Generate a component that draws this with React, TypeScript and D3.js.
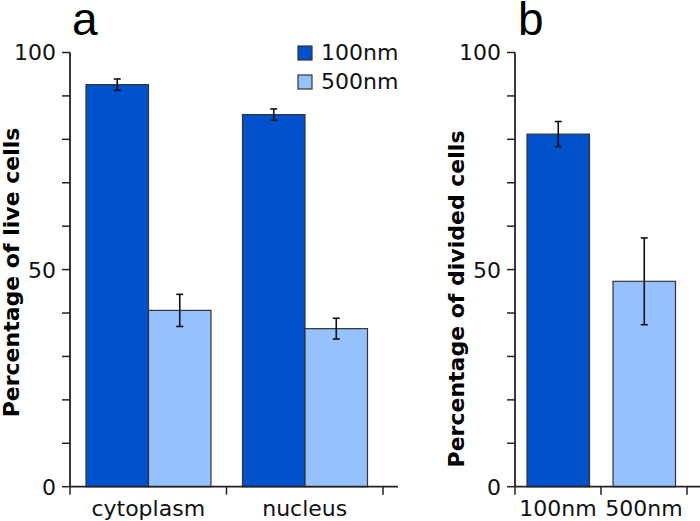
import React from "react";
import * as d3 from "d3";

const categoriesA = ["cytoplasm", "nucleus"];
const seriesNames = ["100nm", "500nm"];
const values100A = [92.6, 85.7];
const errors100A = [1.3, 1.3];
const values500A = [40.6, 36.4];
const errors500A = [3.7, 2.4];

const categoriesB = ["100nm", "500nm"];
const valuesB = [81.2, 47.3];
const errorsB = [2.9, 10.0];

const yTicksMajor = [0, 50, 100];
const yTicksMinor = [0, 10, 20, 30, 40, 50, 60, 70, 80, 90, 100];

const colors = ["#0052CC", "#96C1FF"];
const FONT = "DejaVu Sans, Verdana, sans-serif";

export default function App() {
  const W = 700, H = 521;
  const y = d3.scaleLinear().domain([0, 100]).range([486.7, 52.5]);

  const xA = d3.scaleBand<string>().domain(categoriesA).range([70, 383]).paddingInner(0).paddingOuter(0);
  const xA1 = d3.scaleBand<string>().domain(seriesNames).range([16, 141]);
  const xB = d3.scaleBand<string>().domain(categoriesB).range([515, 687]).paddingInner(0).paddingOuter(0);

  const seriesA = [
    { name: seriesNames[0], vals: values100A, errs: errors100A },
    { name: seriesNames[1], vals: values500A, errs: errors500A },
  ];

  const yAxis = (x0: number) => (
    <g>
      <line x1={x0} x2={x0} y1={y(100)} y2={y(0)} stroke="#222" strokeWidth={1.8} />
      {yTicksMinor.map((t) => (
        <line key={t} x1={x0 - 8} x2={x0} y1={y(t)} y2={y(t)} stroke="#222" strokeWidth={1.5} />
      ))}
      {yTicksMajor.map((t) => (
        <text key={t} x={x0 - 14} y={y(t)} dy="0.36em" textAnchor="end" fontFamily={FONT} fontSize={22} fill="#111">
          {t}
        </text>
      ))}
    </g>
  );

  const errBar = (cx: number, v: number, e: number, key: string) => (
    <g key={key}>
      <line x1={cx} x2={cx} y1={y(v + e)} y2={y(v - e)} stroke="#111" strokeWidth={1.6} />
      <line x1={cx - 3.5} x2={cx + 3.5} y1={y(v + e)} y2={y(v + e)} stroke="#111" strokeWidth={1.6} />
      <line x1={cx - 3.5} x2={cx + 3.5} y1={y(v - e)} y2={y(v - e)} stroke="#111" strokeWidth={1.6} />
    </g>
  );

  return (
    <svg width={W} height={H} style={{ position: "absolute", left: 0, top: 0, background: "#fff" }}>
      {/* Panel a */}
      <text x={72} y={35} fontFamily="Liberation Sans, Arial, sans-serif" fontSize={46} fill="#000">a</text>
      <text
        transform={`translate(18.5,272.5) rotate(-90)`}
        textAnchor="middle"
        fontFamily={FONT}
        fontWeight="bold"
        fontSize={22}
        fill="#000"
      >
        Percentage of live cells
      </text>
      {seriesA.map((s, si) =>
        categoriesA.map((c, ci) => {
          const x0 = (xA(c) as number) + (xA1(s.name) as number);
          return (
            <rect
              key={s.name + c}
              x={x0}
              y={y(s.vals[ci])}
              width={xA1.bandwidth()}
              height={y(0) - y(s.vals[ci])}
              fill={colors[si]}
              stroke="#333"
              strokeWidth={1.2}
            />
          );
        })
      )}
      {seriesA.map((s, si) =>
        categoriesA.map((c, ci) => {
          const cx = (xA(c) as number) + (xA1(s.name) as number) + xA1.bandwidth() / 2;
          return errBar(cx, s.vals[ci], s.errs[ci], "ea" + si + ci);
        })
      )}
      {yAxis(70)}
      <line x1={70} x2={398} y1={y(0)} y2={y(0)} stroke="#222" strokeWidth={1.8} />
      {[...categoriesA.map((c) => xA(c) as number), 383].map((t, i) => (
        <line key={i} x1={t} x2={t} y1={y(0)} y2={y(0) + 8} stroke="#222" strokeWidth={1.5} />
      ))}
      {categoriesA.map((c) => (
        <text key={c} x={(xA(c) as number) + xA.bandwidth() / 2} y={516} textAnchor="middle" fontFamily={FONT} fontSize={22} fill="#111">
          {c}
        </text>
      ))}
      {/* Legend */}
      {seriesNames.map((n, i) => (
        <g key={n}>
          <rect x={298} y={46 + i * 29} width={14} height={14} fill={colors[i]} stroke="#333" strokeWidth={1.2} />
          <text x={321} y={59.5 + i * 29} fontFamily={FONT} fontSize={22} fill="#111">{n}</text>
        </g>
      ))}

      {/* Panel b */}
      <text x={518} y={35} fontFamily="Liberation Sans, Arial, sans-serif" fontSize={46} fill="#000">b</text>
      <text
        transform={`translate(464,299) rotate(-90)`}
        textAnchor="middle"
        fontFamily={FONT}
        fontWeight="bold"
        fontSize={22}
        fill="#000"
      >
        Percentage of divided cells
      </text>
      {categoriesB.map((c, i) => (
        <rect
          key={c}
          x={(xB(c) as number) + 12}
          y={y(valuesB[i])}
          width={62.5}
          height={y(0) - y(valuesB[i])}
          fill={colors[i]}
          stroke="#333"
          strokeWidth={1.2}
        />
      ))}
      {categoriesB.map((c, i) => errBar((xB(c) as number) + 12 + 31.25, valuesB[i], errorsB[i], "eb" + i))}
      {yAxis(515)}
      <line x1={515} x2={700} y1={y(0)} y2={y(0)} stroke="#222" strokeWidth={1.8} />
      {[...categoriesB.map((c) => xB(c) as number), 687].map((t, i) => (
        <line key={i} x1={t} x2={t} y1={y(0)} y2={y(0) + 8} stroke="#222" strokeWidth={1.5} />
      ))}
      {categoriesB.map((c) => (
        <text key={c} x={(xB(c) as number) + xB.bandwidth() / 2} y={516} textAnchor="middle" fontFamily={FONT} fontSize={22} fill="#111">
          {c}
        </text>
      ))}
    </svg>
  );
}
